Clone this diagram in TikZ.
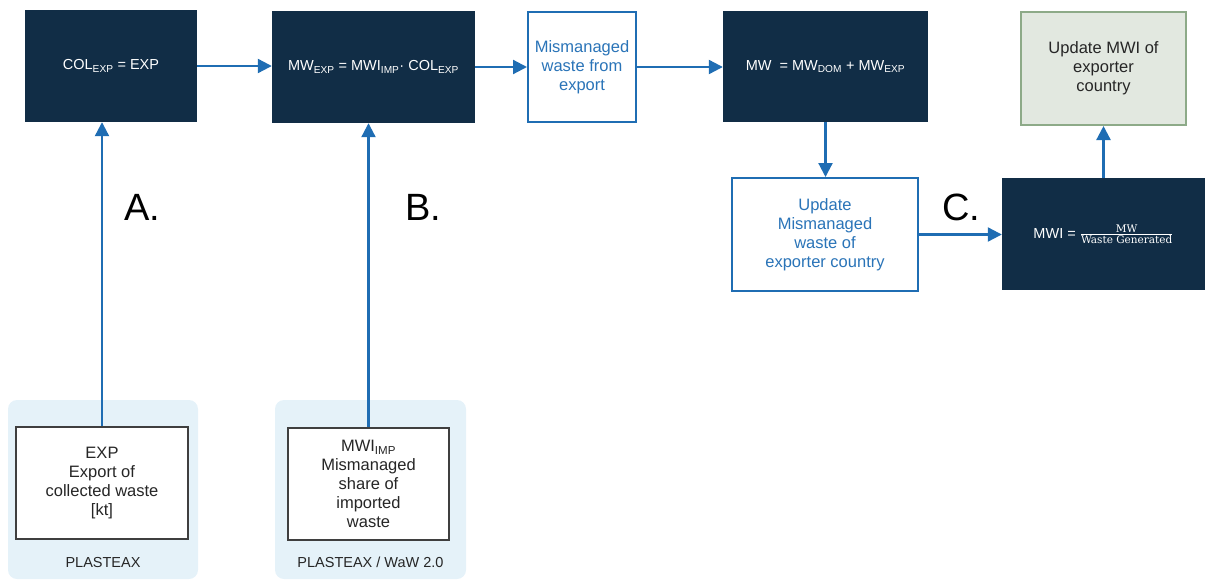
\documentclass[tikz,border=0pt]{standalone}
\usepackage{fontspec}
\setmainfont{Liberation Sans}
\newfontfamily\fracfont{DejaVu Serif}
\usetikzlibrary{positioning, arrows.meta}
\definecolor{navy}{HTML}{112D46}
\definecolor{flowblue}{HTML}{1F6DB3}
\definecolor{textblue}{HTML}{2A74B8}
\definecolor{panelblue}{HTML}{E5F2F9}
\definecolor{boxgray}{HTML}{3F3F3F}
\definecolor{sagefill}{HTML}{E2E8E0}
\definecolor{sageline}{HTML}{8DAA88}
\tikzset{ txt/.style={font=\fontsize{16.5}{19}\selectfont, align=center},
          eqtxt/.style={font=\fontsize{14.5}{17}\selectfont, align=center},
          darkbox/.style={eqtxt, fill=navy, text=white},
          bluebox/.style={txt, draw=flowblue, line width=2pt, fill=white, text=textblue},
          sagebox/.style={txt, draw=sageline, line width=2pt, fill=sagefill, text=black!85},
          srcbox/.style={txt, draw=boxgray, line width=2.5pt, fill=white, text=black!85},
          srcpanel/.style={fill=panelblue, rounded corners=9pt},
          steplabel/.style={font=\fontsize{38}{40}\selectfont, text=black},
          flow/.style={draw=flowblue, line width=2.2pt, -{Triangle[length=14pt,width=14pt]}}}
\newcommand{\fracword}[1]{\hbox{\fracfont\fontsize{10.5}{12}\selectfont #1}}

\begin{document}
\begin{tikzpicture}[x=1pt, y=-1pt]
\useasboundingbox (0,0) rectangle (1205,579);

% data sources
\node[srcpanel, minimum width=190, minimum height=179] (panA) at (103,489.5) {};
\node[srcpanel, minimum width=191, minimum height=179] (panB) at (370.5,489.5) {};
\node[eqtxt, text=black!85] (srcA) at (103,562) {PLASTEAX};
\node[eqtxt, text=black!85] (srcB) at (370.5,562) {PLASTEAX / WaW 2.0};
\node[srcbox, minimum width=172, minimum height=112] (exp) at (102,483)
  {EXP\\Export of\\collected waste\\{}[kt]};
\node[srcbox, minimum width=161, minimum height=112] (mwiimp) at (368.5,484)
  {MWI\textsubscript{IMP}\\Mismanaged\\share of\\imported\\waste};

% calculation chain
\node[darkbox, minimum width=172, minimum height=112] (col) at (111,66)
  {COL\textsubscript{EXP} = EXP};
\node[darkbox, minimum width=203, minimum height=112] (mwexp) at (373.5,67)
  {MW\textsubscript{EXP} = MWI\textsubscript{IMP}·~COL\textsubscript{EXP}};
\node[bluebox, minimum width=108, minimum height=110] (mis) at (582,67)
  {Mismanaged\\waste from\\export};
\node[darkbox, minimum width=205, minimum height=111] (mwtot) at (825.5,66.5)
  {MW\ \ = MW\textsubscript{DOM} + MW\textsubscript{EXP}};
\node[bluebox, minimum width=186, minimum height=113] (upmw) at (825,234.5)
  {Update\\Mismanaged\\waste of\\exporter country};
\node[darkbox, minimum width=203, minimum height=112] (mwi) at (1103.5,234)
  {MWI = $\frac{\fracword{MW}}{\fracword{Waste Generated}}$};
\node[sagebox, minimum width=165, minimum height=113] (upmwi) at (1103.5,68.5)
  {Update MWI of\\exporter\\country};

% step labels
\node[steplabel] (labA) at (142,207) {A.};
\node[steplabel] (labB) at (423,207) {B.};
\node[steplabel] (labC) at (961,207) {C.};

% connectors
\foreach \a/\b in {col/mwexp, mwexp/mis, mis/mwtot} %top row
  \draw[flow] (\a.east) -- (\a.east -| \b.west);
\draw[flow] (exp.north) -- (exp.north |- col.south);
\draw[flow] (mwiimp.north) -- (mwiimp.north |- mwexp.south);
\draw[flow] (mwtot.south) -- (mwtot.south |- upmw.north);
\draw[flow] (upmw.east) -- (upmw.east -| mwi.west);
\draw[flow] (mwi.north) -- (upmwi.south);

\end{tikzpicture}
\end{document}
